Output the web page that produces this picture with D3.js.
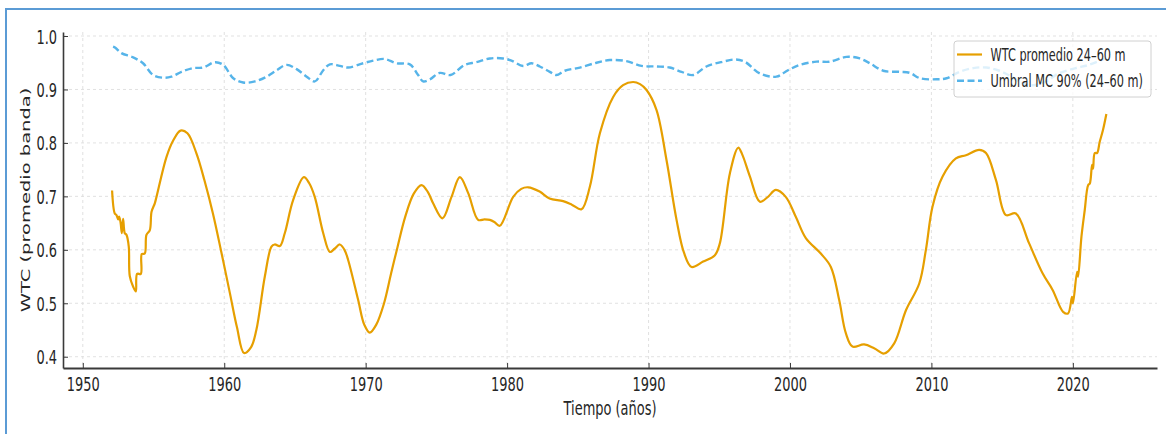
<!DOCTYPE html>
<html>
<head>
<meta charset="utf-8">
<script src="https://cdn.jsdelivr.net/npm/d3@7"></script>
<style>
  html, body { margin: 0; padding: 0; background: #fff; }
  svg { display: block; font-family: "DejaVu Sans", sans-serif; }
</style>
</head>
<body>
<svg id="chart" width="1166" height="434"></svg>
<script>
// ---- Data ----
const wtcYears = [1952.07,1952.26,1952.38,1952.50,1952.57,1952.67,1952.76,1952.85,1952.97,1953.09,1953.25,1953.32,1953.56,1953.75,1953.84,1954.10,1954.17,1954.38,1954.50,1954.74,1954.86,1955.09,1955.21,1955.92,1956.40,1956.91,1957.40,1958.04,1958.60,1959.20,1959.80,1960.40,1960.90,1961.40,1961.90,1962.27,1962.87,1963.34,1963.57,1963.93,1964.28,1964.87,1965.63,1966.00,1966.40,1967.00,1967.47,1967.80,1968.17,1968.50,1968.76,1969.47,1969.90,1970.29,1970.75,1971.30,1971.80,1972.25,1972.80,1973.40,1973.95,1974.40,1974.77,1975.43,1976.07,1976.66,1977.25,1977.95,1978.40,1978.78,1979.10,1979.48,1980.43,1981.00,1981.49,1982.30,1983.00,1983.96,1984.60,1985.26,1985.85,1986.56,1987.50,1988.20,1988.91,1989.40,1989.86,1990.56,1991.27,1991.98,1992.50,1993.04,1993.86,1994.69,1995.04,1995.75,1996.34,1996.60,1997.17,1997.87,1998.40,1999.00,1999.70,2000.41,2001.12,2002.18,2002.89,2003.48,2003.95,2004.42,2005.24,2005.95,2006.66,2007.37,2008.20,2009.14,2009.61,2010.08,2010.79,2011.73,2012.44,2013.38,2013.86,2014.56,2015.27,2015.97,2016.91,2017.86,2018.57,2019.31,2019.66,2019.94,2020.01,2020.30,2020.37,2020.61,2020.84,2021.08,2021.20,2021.36,2021.43,2021.55,2021.71,2021.90,2022.13,2022.37];
const wtcValues = [0.711,0.668,0.665,0.657,0.662,0.651,0.631,0.658,0.631,0.628,0.606,0.551,0.531,0.522,0.555,0.555,0.592,0.593,0.628,0.637,0.671,0.687,0.699,0.774,0.805,0.823,0.818,0.780,0.730,0.668,0.595,0.519,0.455,0.407,0.418,0.450,0.550,0.606,0.610,0.607,0.631,0.693,0.736,0.725,0.699,0.631,0.596,0.602,0.610,0.600,0.581,0.506,0.460,0.445,0.460,0.500,0.556,0.605,0.662,0.705,0.721,0.708,0.687,0.659,0.699,0.736,0.706,0.656,0.657,0.656,0.652,0.645,0.699,0.714,0.717,0.709,0.696,0.691,0.684,0.676,0.718,0.818,0.886,0.908,0.914,0.910,0.899,0.862,0.768,0.656,0.595,0.568,0.578,0.590,0.612,0.743,0.791,0.780,0.737,0.690,0.698,0.712,0.699,0.662,0.622,0.593,0.568,0.506,0.444,0.419,0.423,0.416,0.406,0.425,0.487,0.537,0.600,0.681,0.737,0.771,0.777,0.787,0.781,0.731,0.665,0.668,0.612,0.556,0.525,0.484,0.481,0.512,0.500,0.559,0.550,0.625,0.674,0.721,0.724,0.759,0.752,0.781,0.781,0.802,0.824,0.854];

const umbralYears = [1952.14,1952.30,1952.73,1953.56,1954.26,1954.97,1955.68,1956.27,1956.98,1957.80,1958.51,1959.34,1959.93,1960.64,1961.34,1962.17,1963.00,1963.71,1964.41,1965.12,1965.83,1966.40,1967.00,1967.47,1968.17,1968.76,1969.82,1970.53,1971.35,1972.18,1973.12,1973.71,1974.06,1974.54,1975.24,1976.00,1977.01,1977.83,1978.78,1979.72,1980.31,1981.13,1981.73,1982.31,1983.02,1983.49,1984.08,1985.14,1986.32,1987.26,1988.44,1989.50,1990.56,1991.50,1992.33,1993.15,1994.09,1995.27,1996.10,1996.80,1997.87,1999.04,1999.86,2000.70,2001.88,2002.82,2004.00,2004.94,2005.65,2006.59,2007.77,2008.48,2009.19,2010.37,2011.07,2012.00,2012.96,2013.90,2014.80,2015.60,2016.40,2017.20,2018.10,2019.00,2020.20,2021.14,2022.30];
const umbralValues = [0.980,0.978,0.968,0.960,0.949,0.927,0.922,0.924,0.933,0.940,0.941,0.951,0.946,0.921,0.913,0.915,0.924,0.936,0.946,0.938,0.924,0.915,0.936,0.947,0.944,0.941,0.949,0.954,0.957,0.949,0.947,0.927,0.915,0.919,0.931,0.927,0.946,0.951,0.958,0.958,0.954,0.944,0.949,0.943,0.933,0.927,0.935,0.941,0.950,0.955,0.953,0.944,0.943,0.941,0.933,0.927,0.943,0.952,0.956,0.952,0.930,0.924,0.936,0.946,0.952,0.952,0.961,0.958,0.949,0.935,0.933,0.931,0.921,0.919,0.921,0.933,0.940,0.941,0.935,0.925,0.912,0.908,0.915,0.930,0.940,0.946,0.958];

const xTicks = [1950,1960,1970,1980,1990,2000,2010,2020];
const yTicks = [0.4,0.5,0.6,0.7,0.8,0.9,1.0];
const seriesNames = ["WTC promedio 24\u201360 m", "Umbral MC 90% (24\u201360 m)"];
const xLabel = "Tiempo (a\u00f1os)";
const yLabel = "WTC (promedio banda)";

// ---- Layout ----
const SQ = 0.665; // horizontal text squeeze seen in the reference
const plot = {left: 63, right: 1157, top: 32, bottom: 368};
const orange = "#E69F00", blue = "#56B4E9", ink = "#262626";

const svg = d3.select("#chart");

// outer frame
svg.append("rect").attr("x", 6).attr("y", 9).attr("width", 1300).attr("height", 600)
  .attr("fill", "none").attr("stroke", "#5B9BD5").attr("stroke-width", 2);

const x = d3.scaleLinear().domain([1948.6, 2025.95]).range([plot.left, plot.right]);
const y = d3.scaleLinear().domain([0.3789, 1.0075]).range([plot.bottom, plot.top]);

// grid
const grid = svg.append("g").attr("stroke", "#dedede").attr("stroke-width", 0.9).attr("stroke-dasharray", "3,3");
grid.selectAll("line.gx").data(xTicks).join("line")
  .attr("x1", d => x(d)).attr("x2", d => x(d)).attr("y1", plot.top).attr("y2", plot.bottom);
grid.selectAll("line.gy").data(yTicks).join("line")
  .attr("x1", plot.left).attr("x2", plot.right).attr("y1", d => y(d)).attr("y2", d => y(d));

// axes
const xAxis = d3.axisBottom(x).tickValues(xTicks).tickFormat(d3.format("d"))
  .tickSizeInner(-5).tickSizeOuter(0).tickPadding(0);
const gx = svg.append("g").attr("transform", `translate(0,${plot.bottom})`).call(xAxis);
gx.select(".domain").attr("stroke", "#3a3a3a").attr("stroke-width", 2);
gx.selectAll(".tick line").attr("stroke", "#3a3a3a").attr("stroke-width", 1);
gx.selectAll(".tick text").attr("fill", ink).attr("font-size", 19.5)
  .attr("font-family", "DejaVu Sans").attr("y", 0).attr("dy", 0)
  .attr("transform", `translate(0,22.5) scale(${SQ},1)`);

const yAxis = d3.axisLeft(y).tickValues(yTicks).tickFormat(d3.format(".1f"))
  .tickSizeInner(-5).tickSizeOuter(0).tickPadding(0);
const gy = svg.append("g").attr("transform", `translate(${plot.left},0)`).call(yAxis);
gy.select(".domain").attr("stroke", "#3a3a3a").attr("stroke-width", 1.6);
gy.selectAll(".tick line").attr("stroke", "#3a3a3a").attr("stroke-width", 1);
gy.selectAll(".tick text").attr("fill", ink).attr("font-size", 19.5)
  .attr("font-family", "DejaVu Sans").attr("x", 0).attr("dy", "0.36em")
  .attr("transform", `translate(-6,0) scale(${SQ},1)`);

// axis labels
svg.append("text").attr("transform", `translate(${(plot.left + plot.right) / 2},415) scale(${SQ},1)`)
  .attr("text-anchor", "middle").attr("font-size", 19.5).attr("fill", ink).text(xLabel);
svg.append("text").attr("transform", `translate(25,${(plot.top + plot.bottom) / 2}) rotate(-90) scale(1,${SQ})`)
  .attr("text-anchor", "middle").attr("dy", "0.36em").attr("font-size", 19.5).attr("fill", ink).text(yLabel);

// lines
const wtc = wtcYears.map((t, i) => [t, wtcValues[i]]);
const umb = umbralYears.map((t, i) => [t, umbralValues[i]]);
const line = d3.line().x(d => x(d[0])).y(d => y(d[1])).curve(d3.curveCatmullRom.alpha(0.5));

svg.append("path").datum(wtc).attr("d", line).attr("fill", "none")
  .attr("stroke", orange).attr("stroke-width", 2.2).attr("stroke-linejoin", "round");
svg.append("path").datum(umb).attr("d", line).attr("fill", "none")
  .attr("stroke", blue).attr("stroke-width", 2.4).attr("stroke-dasharray", "7,3.5");

// legend
const lg = svg.append("g");
lg.append("rect").attr("x", 954).attr("y", 41).attr("width", 197).attr("height", 56).attr("rx", 3)
  .attr("fill", "#fff").attr("fill-opacity", 0.8).attr("stroke", "#d0d0d0").attr("stroke-width", 1);
const rows = [{name: seriesNames[0], color: orange, dash: null, cy: 54.5},
              {name: seriesNames[1], color: blue, dash: "7,3.5", cy: 80.7}];
rows.forEach(r => {
  lg.append("line").attr("x1", 957).attr("x2", 982).attr("y1", r.cy).attr("y2", r.cy)
    .attr("stroke", r.color).attr("stroke-width", r.dash ? 2.4 : 2.2).attr("stroke-dasharray", r.dash);
  lg.append("text").attr("transform", `translate(990.5,${r.cy}) scale(${SQ},1)`)
    .attr("dy", "0.36em").attr("font-size", 17).attr("fill", ink).text(r.name);
});
</script>
</body>
</html>
